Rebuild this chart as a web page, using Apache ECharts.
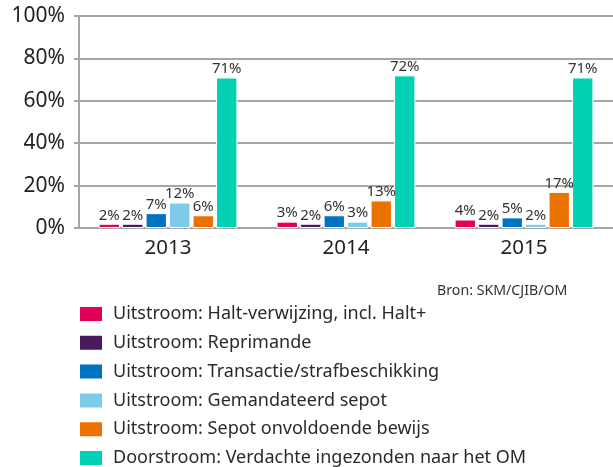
<!DOCTYPE html>
<html><head><meta charset="utf-8">
<script src="https://cdn.jsdelivr.net/npm/echarts@6/dist/echarts.min.js"></script>
<style>html,body{margin:0;padding:0;background:#fff}#c{width:613px;height:467px}</style>
</head><body><div id="c"></div>
<script>
const years = ['2013', '2014', '2015'];
const seriesNames = [
  'Uitstroom: Halt-verwijzing, incl. Halt+',
  'Uitstroom: Reprimande',
  'Uitstroom: Transactie/strafbeschikking',
  'Uitstroom: Gemandateerd sepot',
  'Uitstroom: Sepot onvoldoende bewijs',
  'Doorstroom: Verdachte ingezonden naar het OM'
];
const halt = [2, 3, 4];
const reprimande = [2, 2, 2];
const transactie = [7, 6, 5];
const gemandateerd = [12, 3, 2];
const sepot = [6, 13, 17];
const doorstroom = [71, 72, 71];
const yTicks = ['0%', '20%', '40%', '60%', '80%', '100%'];
const colors = ['#e3005a', '#4b1a5e', '#0073c0', '#7ccbe8', '#ec7200', '#00d1b4'];
const source = 'Bron: SKM/CJIB/OM';

const values = [halt, reprimande, transactie, gemandateerd, sepot, doorstroom];
const font = 'Noto Sans';
const chart = echarts.init(document.getElementById('c'));
chart.setOption({
  animation: false,
  textStyle: { fontFamily: font },
  grid: { left: 79, right: 0, top: 16, height: 212 },
  legend: seriesNames.map((n, i) => ({
    orient: 'vertical', left: 78, top: 305 + i * 28.8, padding: 0,
    itemWidth: 24, itemHeight: 16,
    icon: 'rect', selectedMode: false,
    textStyle: { fontSize: 18, color: '#2a2a2a', fontFamily: font, padding: [0, 0, 0, 5] },
    data: [n]
  })),
  graphic: [{
    type: 'text', left: 437, top: 284,
    style: { text: source, fontSize: 14.2, fill: '#333', fontFamily: font }
  }],
  xAxis: {
    type: 'category', data: years,
    axisLine: { lineStyle: { color: '#a6a6a6', width: 2 } },
    axisTick: { length: 6, lineStyle: { color: '#a6a6a6', width: 2 } },
    axisLabel: { fontSize: 20.5, color: '#222', margin: 10 }
  },
  yAxis: {
    type: 'value', min: 0, max: 100, interval: 20,
    axisLine: { show: true, lineStyle: { color: '#a6a6a6', width: 2 } },
    axisTick: { show: true, length: 5, lineStyle: { color: '#a6a6a6', width: 2 } },
    splitLine: { lineStyle: { color: '#a6a6a6', width: 2 } },
    axisLabel: { fontSize: 21, color: '#222', margin: 14,
      formatter: v => yTicks[Math.round(v / 20)] }
  },
  series: seriesNames.map((n, i) => ({
    name: n, type: 'bar', data: values[i],
    barCategoryGap: '22%', barGap: '10%',
    itemStyle: { color: colors[i], borderColor: '#fff', borderWidth: 1 },
    label: { show: true, position: 'top', distance: 1, fontSize: 15, color: '#333',
      formatter: p => p.value + '%' }
  }))
});
</script></body></html>
